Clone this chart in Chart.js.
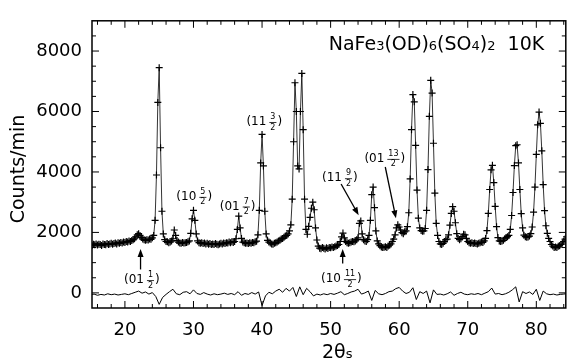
<!DOCTYPE html>
<html>
<head>
<meta charset="utf-8">
<script src="https://cdn.jsdelivr.net/npm/chart.js@4.4.0/dist/chart.umd.min.js"></script>
<style>
  html, body { margin: 0; padding: 0; background: #fff; }
</style>
</head>
<body>
<canvas id="grafico" width="571" height="364"></canvas>
<script>
// Varredura: início e passo em 2θ (graus)
const inicio2Theta = 15.0;
const passo2Theta = 0.2;

// Contagens observadas (counts/min), uma linha por grau: x.0 x.2 x.4 x.6 x.8
const contagens = [
  1600, 1570, 1610, 1590, 1620,
  1580, 1610, 1600, 1570, 1620,
  1600, 1590, 1630, 1600, 1620,
  1640, 1610, 1630, 1650, 1620,
  1660, 1640, 1670, 1650, 1680,
  1670, 1700, 1680, 1720, 1700,   // 20
  1730, 1760, 1790, 1850, 1920,
  1960, 1900, 1830, 1780, 1760,
  1740, 1760, 1750, 1780, 1770,
  1820, 1900, 2400, 3900, 6300,
  7450, 4800, 2700, 1950, 1760,   // 25
  1700, 1690, 1660, 1680, 1720,
  1790, 2080, 1900, 1730, 1680,
  1650, 1640, 1670, 1650, 1660,
  1670, 1690, 1720, 1970, 2450,
  2730, 2400, 1950, 1720, 1660,   // 30
  1640, 1660, 1630, 1650, 1620,
  1640, 1610, 1630, 1600, 1620,
  1600, 1630, 1610, 1590, 1620,
  1640, 1620, 1650, 1630, 1660,
  1650, 1680, 1660, 1690, 1670,   // 35
  1700, 1790, 2100, 2540, 2150,
  1800, 1680, 1660, 1640, 1650,
  1630, 1660, 1640, 1670, 1660,
  1690, 1710, 1920, 2730, 4300,
  5240, 4200, 2700, 1950, 1740,   // 40
  1680, 1650, 1620, 1610, 1640,
  1660, 1680, 1720, 1740, 1780,
  1800, 1840, 1880, 1900, 1950,
  2050, 2250, 3100, 5000, 6950,
  6000, 4200, 4100, 6000, 7260,   // 45
  5400, 3100, 2100, 1940, 2200,
  2500, 2800, 3000, 2750, 2150,
  1750, 1550, 1480, 1460, 1500,
  1480, 1450, 1490, 1470, 1500,
  1490, 1520, 1500, 1530, 1550,   // 50
  1570, 1600, 1700, 1850, 1980,
  1820, 1700, 1660, 1640, 1660,
  1680, 1700, 1690, 1720, 1760,
  1820, 2300, 2380, 1950, 1760,
  1720, 1700, 1760, 1900, 2400,   // 55
  3250, 3500, 2820, 2050, 1720,
  1620, 1560, 1520, 1500, 1510,
  1530, 1500, 1550, 1580, 1620,
  1700, 1780, 1920, 2150, 2250,
  2180, 2080, 1990, 1960, 2020,   // 60
  2050, 2190, 2650, 3770, 5400,
  6560, 6320, 4880, 3400, 2470,
  2150, 2060, 2040, 2050, 2130,
  2730, 4080, 5840, 7030, 6610,
  4950, 3300, 2300, 1900, 1700,   // 65
  1620, 1600, 1640, 1700, 1760,
  1780, 1920, 2240, 2630, 2850,
  2700, 2320, 1960, 1800, 1760,
  1790, 1860, 1940, 1920, 1800,
  1700, 1660, 1640, 1660, 1630,   // 70
  1650, 1630, 1620, 1640, 1660,
  1680, 1670, 1720, 1800, 2060,
  2630, 3420, 4070, 4220, 3650,
  2860, 2190, 1830, 1720, 1700,
  1720, 1740, 1790, 1830, 1860,   // 75
  1900, 2100, 2560, 3320, 4210,
  4870, 4900, 4300, 3420, 2620,
  2150, 1910, 1860, 1840, 1850,
  1880, 1960, 2180, 2670, 3500,
  4580, 5560, 5980, 5610, 4700,   // 80
  3580, 2720, 2220, 1970, 1800,
  1700, 1600, 1550, 1500, 1520,
  1500, 1540, 1560, 1600, 1650,
  1700, 1780, 1850
];

// Diferença observado - calculado, passo de 0.5 grau a partir de 15
const passoDiferenca = 0.5;
const diferenca = [
  -60, -40, -80, -50, -70, -30, -60, -40, -70, -50,
  -30, -60, -20, 20, 60, -10, 30, -40, 10, -120,
  -380, -150, -50, 40, 120, -30, -60, 20, 40, -30,
  100, -20, -50, 10, -40, -70, -30, -60, -40, -10,
  -50, -20, -60, 40, -80, -20, -50, 10, -40, 30,
  -420, -100, 20, -30, 60, 120, 20, 150, 60, 180,
  -120, 200, -60, 150, 40, -100, -40, -70, -30, -60,
  -20, -50, -10, 40, -60, -20, 30, 60, 120, -40,
  0, 60, -250, 80, -30, -60, -20, 40, 60, 140,
  180, 60, -20, 20, 170, -220, 40, -20, 60, -330,
  100, -50, -40, -70, -30, 30, -80, -20, 20, -40,
  -60, -30, -50, -20, -60, -10, 40, 160, -40, -20,
  -60, -30, 20, 100, 200, -300, 40, -20, 30, -50,
  120, -250, 60, -30, -60, -40, -70, -50, -40, -20
];

// Rótulos dos eixos
const ticksX = [20, 30, 40, 50, 60, 70, 80];
const ticksY = [0, 2000, 4000, 6000, 8000];

// Índices de Miller anotados (posição em coordenadas de dados)
const rotulos = [
  { t: 22.47, c: 424, inteiro: '01', num: '1', den: '2', seta: [22.28, 775, 22.28, 1454] },
  { t: 30.11, c: 3176, inteiro: '10', num: '5', den: '2' },
  { t: 36.44, c: 2857, inteiro: '01', num: '7', den: '2' },
  { t: 40.32, c: 5653, inteiro: '11', num: '3', den: '2' },
  { t: 51.35, c: 3794, inteiro: '11', num: '9', den: '2', seta: [51.53, 3603, 54.09, 2570] },
  { t: 57.90, c: 4432, inteiro: '01', num: '13', den: '2', seta: [57.97, 4164, 59.53, 2465] },
  { t: 51.57, c: 456, inteiro: '10', num: '11', den: '2', seta: [51.76, 976, 51.76, 1454] }
];

const fonte = '"DejaVu Sans", sans-serif';

const pontosObs = contagens.map((v, i) => ({ x: inicio2Theta + i * passo2Theta, y: v }));
const pontosDif = diferenca.map((v, i) => ({ x: inicio2Theta + i * passoDiferenca, y: v }));

// Desenha uma seta com ponta cheia
function seta(ctx, x1, y1, x2, y2) {
  const a = Math.atan2(y2 - y1, x2 - x1);
  const c = Math.cos(a), s = Math.sin(a);
  ctx.beginPath();
  ctx.moveTo(x1, y1);
  ctx.lineTo(x2 - 6 * c, y2 - 6 * s);
  ctx.stroke();
  ctx.beginPath();
  ctx.moveTo(x2, y2);
  ctx.lineTo(x2 - 8 * c + 3 * s, y2 - 8 * s - 3 * c);
  ctx.lineTo(x2 - 8 * c - 3 * s, y2 - 8 * s + 3 * c);
  ctx.closePath();
  ctx.fill();
}

// Escreve "(hk l/2)" com fração empilhada
function indice(ctx, cx, cy, inteiro, num, den) {
  const grande = '12px ' + fonte, pequena = '8px ' + fonte;
  ctx.font = grande;
  const wA = ctx.measureText('(' + inteiro).width;
  const wC = ctx.measureText(')').width;
  ctx.font = pequena;
  const wF = Math.max(ctx.measureText(num).width, ctx.measureText(den).width) + 2;
  const gap = 3;
  const x0 = cx - (wA + gap + wF + 1 + wC) / 2;
  ctx.textBaseline = 'middle';
  ctx.textAlign = 'left';
  ctx.font = grande;
  ctx.fillText('(' + inteiro, x0, cy);
  const fx = x0 + wA + gap + wF / 2;
  ctx.font = pequena;
  ctx.textAlign = 'center';
  ctx.fillText(num, fx, cy - 5);
  ctx.fillText(den, fx, cy + 5.5);
  ctx.lineWidth = 0.8;
  ctx.beginPath();
  ctx.moveTo(fx - wF / 2, cy + 0.5);
  ctx.lineTo(fx + wF / 2, cy + 0.5);
  ctx.stroke();
  ctx.font = grande;
  ctx.textAlign = 'left';
  ctx.fillText(')', x0 + wA + gap + wF + 1, cy);
}

// Moldura, marcas internas dos eixos, títulos e anotações
const moldura = {
  id: 'moldura',
  afterDraw(chart) {
    const { ctx, chartArea: a, scales: { x, y } } = chart;
    ctx.save();
    ctx.strokeStyle = '#000';
    ctx.fillStyle = '#000';
    ctx.lineWidth = 1.5;
    ctx.strokeRect(a.left, a.top, a.right - a.left, a.bottom - a.top);

    ctx.lineWidth = 1;
    ctx.beginPath();
    for (let v = 16; v <= 84; v += 2) {
      const px = x.getPixelForValue(v);
      const len = v % 10 === 0 ? 7 : 4;
      ctx.moveTo(px, a.bottom); ctx.lineTo(px, a.bottom - len);
      ctx.moveTo(px, a.top); ctx.lineTo(px, a.top + len);
    }
    for (let v = 0; v < 9000; v += 500) {
      const py = y.getPixelForValue(v);
      const len = v % 2000 === 0 ? 7 : 4;
      ctx.moveTo(a.left, py); ctx.lineTo(a.left + len, py);
      ctx.moveTo(a.right, py); ctx.lineTo(a.right - len, py);
    }
    ctx.stroke();

    // título do eixo y
    ctx.save();
    ctx.translate(19, 169);
    ctx.rotate(-Math.PI / 2);
    ctx.font = '19px ' + fonte;
    ctx.textAlign = 'center';
    ctx.textBaseline = 'middle';
    ctx.fillText('Counts/min', 0, 0);
    ctx.restore();

    // título do eixo x: 2θ com índice s
    ctx.textAlign = 'left';
    ctx.textBaseline = 'alphabetic';
    ctx.font = '19px ' + fonte;
    const w2t = ctx.measureText('2θ').width;
    ctx.fillText('2θ', 322, 358);
    ctx.font = '13px ' + fonte;
    ctx.fillText('s', 322 + w2t, 358);

    // fórmula e temperatura
    const partes = [['NaFe', 0], ['3', 1], ['(OD)', 0], ['6', 1], ['(SO', 0], ['4', 1], [')', 0], ['2', 1], ['  10K', 0]];
    let tx = x.getPixelForValue(49.72);
    const ty = y.getPixelForValue(8044);
    partes.forEach(([txt, sub]) => {
      ctx.font = (sub ? '13px ' : '19px ') + fonte;
      ctx.fillText(txt, tx, ty);
      tx += ctx.measureText(txt).width;
    });

    // índices de Miller
    ctx.lineWidth = 1.3;
    rotulos.forEach(r => {
      indice(ctx, x.getPixelForValue(r.t), y.getPixelForValue(r.c), r.inteiro, r.num, r.den);
      if (r.seta) {
        ctx.lineWidth = 1.3;
        seta(ctx, x.getPixelForValue(r.seta[0]), y.getPixelForValue(r.seta[1]),
                  x.getPixelForValue(r.seta[2]), y.getPixelForValue(r.seta[3]));
      }
    });
    ctx.restore();
  }
};

const grafico = new Chart(document.getElementById('grafico').getContext('2d'), {
  type: 'line',
  data: {
    datasets: [
      {
        label: 'observado',
        data: pontosObs,
        borderColor: '#000',
        borderWidth: 0.8,
        pointStyle: 'cross',
        pointRadius: 3.5,
        pointBorderWidth: 1.2,
        pointBorderColor: '#000',
        tension: 0,
        clip: 0
      },
      {
        label: 'diferença',
        data: pontosDif,
        borderColor: '#000',
        borderWidth: 1,
        pointRadius: 0,
        tension: 0,
        clip: 0
      }
    ]
  },
  options: {
    responsive: false,
    animation: false,
    devicePixelRatio: 1,
    layout: { padding: { top: 10, right: 4, left: 0, bottom: 0 } },
    scales: {
      x: {
        type: 'linear',
        min: 15.2,
        max: 84.3,
        grid: { display: false, drawTicks: false },
        border: { display: false },
        afterBuildTicks: s => { s.ticks = ticksX.map(v => ({ value: v })); },
        afterFit: s => { s.height = 56; },
        ticks: { color: '#000', font: { family: fonte, size: 18 }, padding: 12, maxRotation: 0,
                 callback: v => String(v) }
      },
      y: {
        min: -500,
        max: 9000,
        grid: { display: false, drawTicks: false },
        border: { display: false },
        afterBuildTicks: s => { s.ticks = ticksY.map(v => ({ value: v })); },
        afterFit: s => { s.width = 92; },
        ticks: { color: '#000', font: { family: fonte, size: 18 }, padding: 10,
                 callback: v => String(v) }
      }
    },
    plugins: {
      legend: { display: false },
      tooltip: { enabled: false }
    }
  },
  plugins: [moldura]
});
</script>
</body>
</html>
